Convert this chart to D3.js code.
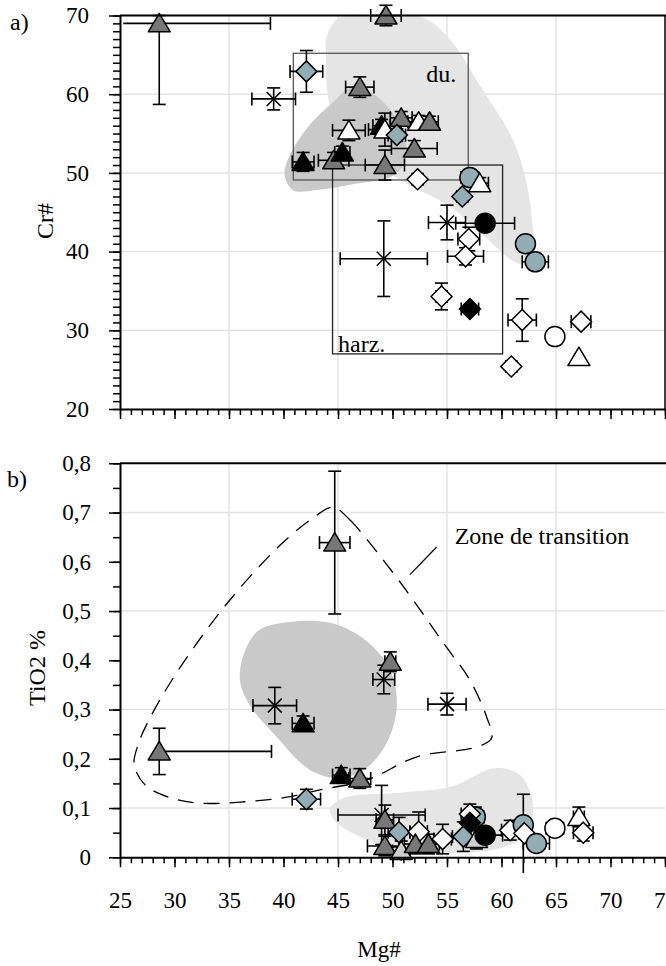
<!DOCTYPE html>
<html>
<head>
<meta charset="utf-8">
<script src="https://cdn.jsdelivr.net/npm/d3@7"></script>
<style>
  body { margin: 0; background: #fff; }
  svg { font-family: "Liberation Serif", "Times New Roman", serif; }
</style>
</head>
<body>
<svg id="chart" width="666" height="966"></svg>
<script>
// ---- data ----
// marker categories used in both panels
const markerTypes = ["triGray", "triBlack", "triWhite", "triLight", "diaBlue", "diaWhite", "diaBlack", "circBlue", "circWhite", "circBlack", "star"];

// panel a) : [type, Mg#, Cr#, error Mg#, error Cr#]  (error may be [minus, plus])
const crPoints = [
    ["triGray", 28.6, 69.0, [3.3, 10.2], [10.3, 1.0]],
    ["triGray", 49.4, 70.0, 1.4, 1.3],
    ["diaBlue", 42.1, 62.9, 1.5, 2.65],
    ["star", 39.1, 59.4, 2.0, 1.4],
    ["triBlack", 41.8, 51.4, 1.0, 1.2],
    ["triGray", 44.6, 51.6, 1.4, 1.0],
    ["triBlack", 45.4, 52.6, 0.7, 0.8],
    ["triGray", 47.0, 60.9, 1.3, 1.3],
    ["triWhite", 46.0, 55.4, 1.5, 1.3],
    ["triBlack", 49.0, 56.0, 0.8, 0.8],
    ["triWhite", 49.3, 55.5, 1.5, 2.1],
    ["triGray", 50.8, 57.0, 1.0, 0.8],
    ["triWhite", 52.4, 56.5, 1.0, 0.8],
    ["triGray", 53.4, 56.5, 0.8, 0.7],
    ["diaBlue", 50.4, 54.8, 0.8, 0.8],
    ["triGray", 52.0, 53.1, 2.1, 1.0],
    ["triGray", 49.3, 51.0, 1.8, 1.9],
    ["diaWhite", 52.3, 49.2, 0.5, 0.5],
    ["circBlue", 57.1, 49.4, 0.8, 0.5],
    ["triWhite", 58.0, 48.7, 0.8, 0.7],
    ["diaBlue", 56.4, 47.0, 0.5, 0.6],
    ["star", 55.0, 43.7, 1.7, 2.2],
    ["circBlack", 58.5, 43.6, 2.7, 0.8],
    ["diaWhite", 57.0, 41.6, 1.0, 1.5],
    ["diaWhite", 56.7, 39.4, 1.65, 1.1],
    ["circBlue", 62.2, 41.0, 0.6, 0.6],
    ["circBlue", 63.1, 38.7, 1.2, 1.0],
    ["star", 49.2, 39.1, 4.0, 4.8],
    ["diaWhite", 54.5, 34.3, 0.5, 1.7],
    ["diaBlack", 57.1, 32.7, 0.8, 0.4],
    ["diaWhite", 61.9, 31.3, 1.3, 2.7],
    ["circWhite", 64.9, 29.2, 0.4, 0.4],
    ["diaWhite", 67.3, 31.1, 0.9, 0.5],
    ["triWhite", 67.1, 26.6, 0, 0],
    ["diaWhite", 60.9, 25.4, 0.5, 0.6]
];

// panel b) : [type, Mg#, TiO2 %, error Mg#, error TiO2]
const tiPoints = [
    ["triGray", 28.6, 0.215, [0, 10.3], 0.047],
    ["star", 39.2, 0.308, 2.0, 0.037],
    ["triBlack", 41.8, 0.272, 1.0, 0.015],
    ["diaBlue", 42.1, 0.118, 1.3, 0.02],
    ["triGray", 44.7, 0.639, 1.4, 0.145],
    ["triBlack", 45.3, 0.167, 0.8, 0.015],
    ["triGray", 47.0, 0.160, 1.0, 0.02],
    ["triGray", 49.8, 0.397, 0.5, 0.02],
    ["star", 49.2, 0.361, 1.0, 0.029],
    ["star", 55.0, 0.311, 1.75, 0.022],
    ["star", 49.0, 0.086, 4.0, 0.06],
    ["triGray", 49.3, 0.076, 0.8, 0.03],
    ["triGray", 49.3, 0.023, 1.6, 0.02],
    ["diaBlue", 50.6, 0.051, 1.0, 0.03],
    ["triLight", 50.8, 0.013, 0.8, 0.02],
    ["diaWhite", 52.4, 0.052, 0.8, 0.04],
    ["triGray", 52.1, 0.027, 1.0, 0.02],
    ["triGray", 53.3, 0.027, 1.0, 0.02],
    ["diaWhite", 54.6, 0.037, 0.8, 0.03],
    ["circBlue", 57.6, 0.082, 0.8, 0.02],
    ["diaWhite", 57.1, 0.088, 0.8, 0.02],
    ["diaBlack", 57.1, 0.070, 0.6, 0.015],
    ["diaBlue", 56.5, 0.042, 1.0, 0.03],
    ["triLight", 57.7, 0.037, 0.8, 0.02],
    ["circBlack", 58.5, 0.045, 1.6, 0.01],
    ["diaWhite", 60.8, 0.055, 0.8, 0.02],
    ["circBlue", 62.0, 0.066, 0.3, [0.098, 0.062]],
    ["diaWhite", 62.1, 0.049, 0.5, 0.01],
    ["circBlue", 63.2, 0.028, 1.2, 0.01],
    ["circWhite", 64.9, 0.059, 0.8, 0.01],
    ["triWhite", 67.1, 0.082, 0.5, 0.02],
    ["diaWhite", 67.5, 0.050, 0.9, 0.017]
];

// fields (Mg#, value)
const crLightField = [[44.0, 67.5], [45.2, 69.8], [48.4, 70.0], [52.8, 69.7], [55.3, 66.9], [58.3, 60.5], [61.05, 54.2], [62.3, 48.7], [62.8, 44.0], [62.9, 38.2], [61.2, 38.7], [58.3, 42.1], [55.3, 45.7], [50.7, 49.1], [47.0, 52.9], [44.7, 56.7], [44.0, 60.5], [43.9, 64.3]];
const crDarkField = [[46.1, 60.8], [44.5, 58.9], [42.4, 56.1], [40.6, 52.3], [40.1, 49.7], [40.9, 47.8], [42.9, 47.8], [46.1, 48.5], [50.0, 49.6], [51.2, 51.6], [51.1, 54.8], [49.8, 58.0], [47.9, 60.3]];
const duBox = [40.9, 56.95, 49.1, 65.2];     // Mg# min, max, Cr# min, max
const harzBox = [44.5, 60.1, 27.0, 51.0];

const tiDarkField = [[36.0, 0.360], [36.5, 0.421], [37.8, 0.462], [40.6, 0.478], [44.3, 0.476], [47.5, 0.441], [49.8, 0.380], [50.4, 0.309], [49.6, 0.238], [47.7, 0.183], [45.2, 0.161], [42.4, 0.178], [39.2, 0.249], [36.9, 0.309]];
const tiLightField = [[44.27, 0.100], [45.6, 0.121], [50.7, 0.131], [55.3, 0.143], [59.4, 0.181], [61.7, 0.167], [62.9, 0.106], [62.2, 0.045], [59.9, 0.019], [55.3, 0.009], [50.7, 0.015], [46.1, 0.052], [44.5, 0.080]];
const transitionZone = [[44.54, 0.711], [46.1, 0.685], [47.48, 0.650], [50.69, 0.559], [55.0, 0.425], [57.1, 0.360], [58.67, 0.283], [59.1, 0.242], [57.75, 0.224], [52.25, 0.204], [47.66, 0.157], [43.35, 0.137], [40.3, 0.122], [36.0, 0.112], [32.3, 0.110], [29.6, 0.121], [27.3, 0.147], [26.3, 0.188], [26.65, 0.228], [27.75, 0.283], [30.5, 0.385], [35.1, 0.523], [39.7, 0.634], [42.7, 0.689]];
const transitionLeader = [[51.6, 0.574], [54.05, 0.630]];

// ticks
const mgTicks = [25, 30, 35, 40, 45, 50, 55, 60, 65, 70, 75];
const mgGrid = [35, 45, 55, 65];
const crTicks = [20, 30, 40, 50, 60, 70];
const crGrid = [30, 40, 50, 60];
const tiTicks = [0, 0.1, 0.2, 0.3, 0.4, 0.5, 0.6, 0.7, 0.8];
const tiGrid = [0.1, 0.3, 0.5, 0.7];

// ---- styles ----
const markerStyle = {
    triGray:  { shape: "tri", fill: "#777777" },
    triBlack: { shape: "tri", fill: "#000000" },
    triWhite: { shape: "tri", fill: "#ffffff" },
    triLight: { shape: "tri", fill: "#cfcfcf" },
    diaBlue:  { shape: "dia", fill: "#93adb5" },
    diaWhite: { shape: "dia", fill: "#ffffff" },
    diaBlack: { shape: "dia", fill: "#000000" },
    circBlue: { shape: "circ", fill: "#93adb5" },
    circWhite:{ shape: "circ", fill: "#ffffff" },
    circBlack:{ shape: "circ", fill: "#000000" },
    star:     { shape: "star", fill: "none" }
};
const gridColor = "#e3e3e3";
const serif = "Liberation Serif";

const svg = d3.select("#chart");

const x = d3.scaleLinear().domain([25, 75]).range([120, 665]);
const yA = d3.scaleLinear().domain([20, 70]).range([409, 15.5]);
const yB = d3.scaleLinear().domain([0, 0.8]).range([857.3, 463.3]);

const commaFmt = d => String(+d.toFixed(2)).replace(".", ",");

function drawPanel(g, y, opts) {
    // gridlines
    g.append("g").selectAll("line")
        .data(mgGrid).enter().append("line")
        .attr("x1", d => x(d)).attr("x2", d => x(d))
        .attr("y1", y.range()[0]).attr("y2", y.range()[1])
        .attr("stroke", gridColor).attr("stroke-width", 1.5);
    g.append("g").selectAll("line")
        .data(opts.grid).enter().append("line")
        .attr("x1", x(25)).attr("x2", x(75))
        .attr("y1", d => y(d)).attr("y2", d => y(d))
        .attr("stroke", gridColor).attr("stroke-width", 1.5);

    const area = d3.line()
        .x(d => x(d[0])).y(d => y(d[1]))
        .curve(d3.curveCatmullRomClosed.alpha(0.5));

    opts.fields.forEach(f => {
        g.append("path").attr("d", area(f.pts))
            .attr("fill", f.color).attr("stroke", "none");
    });

    if (opts.extra) opts.extra(g);

    const pts = opts.points;

    // error bars
    const cap = 6.5;
    const eb = g.append("g").attr("stroke", "#000").attr("stroke-width", 1.6);
    pts.forEach(p => {
        const [t, vx, vy, ex, ey] = p;
        const exm = Array.isArray(ex) ? ex[0] : ex, exp = Array.isArray(ex) ? ex[1] : ex;
        const eym = Array.isArray(ey) ? ey[0] : ey, eyp = Array.isArray(ey) ? ey[1] : ey;
        const cx = x(vx), cy = y(vy);
        if (exm > 0 || exp > 0) {
            eb.append("line").attr("x1", x(vx - exm)).attr("x2", x(vx + exp)).attr("y1", cy).attr("y2", cy);
            if (exp > 0) eb.append("line").attr("x1", x(vx + exp)).attr("x2", x(vx + exp)).attr("y1", cy - cap).attr("y2", cy + cap);
            if (exm > 0 && vx - exm > 25.4) eb.append("line").attr("x1", x(vx - exm)).attr("x2", x(vx - exm)).attr("y1", cy - cap).attr("y2", cy + cap);
        }
        if (eym > 0 || eyp > 0) {
            eb.append("line").attr("x1", cx).attr("x2", cx).attr("y1", y(vy - eym)).attr("y2", y(vy + eyp));
            eb.append("line").attr("x1", cx - cap).attr("x2", cx + cap).attr("y1", y(vy + eyp)).attr("y2", y(vy + eyp));
            if (y(vy - eym) < y.range()[0]) eb.append("line").attr("x1", cx - cap).attr("x2", cx + cap).attr("y1", y(vy - eym)).attr("y2", y(vy - eym));
        }
    });

    // markers
    const mk = g.append("g");
    pts.forEach(p => {
        const st = markerStyle[p[0]];
        const cx = x(p[1]), cy = y(p[2]);
        const m = mk.append("g").attr("transform", `translate(${cx},${cy})`);
        if (st.shape === "tri") {
            m.append("path").attr("d", "M0,-10L11,8.5L-11,8.5Z")
                .attr("fill", st.fill).attr("stroke", "#000").attr("stroke-width", 1.5).attr("stroke-linejoin", "round");
        } else if (st.shape === "dia") {
            m.append("path").attr("d", "M0,-10.5L10.5,0L0,10.5L-10.5,0Z")
                .attr("fill", st.fill).attr("stroke", "#000").attr("stroke-width", 1.5);
        } else if (st.shape === "circ") {
            m.append("circle").attr("r", 10)
                .attr("fill", st.fill).attr("stroke", "#000").attr("stroke-width", 1.5);
        } else {
            m.append("path").attr("d", "M-7,-7L7,7M-7,7L7,-7")
                .attr("fill", "none").attr("stroke", "#000").attr("stroke-width", 1.5);
        }
    });

    // axes
    const y0 = y.range()[0];
    g.append("g").attr("transform", `translate(0,${y0})`)
        .call(d3.axisBottom(x).tickValues(d3.range(25, 76, 1)).tickSize(6).tickSizeOuter(0).tickFormat(""))
        .call(a => a.selectAll("line").attr("stroke-width", 1.5))
        .call(a => a.select(".domain").remove());
    const xMaj = g.append("g").attr("transform", `translate(0,${y0})`)
        .attr("font-family", serif).attr("font-size", 23)
        .call(d3.axisBottom(x).tickValues(mgTicks).tickSize(10).tickSizeOuter(0)
            .tickPadding(24).tickFormat(opts.xLabels ? d3.format("d") : ""));
    xMaj.attr("font-family", serif).attr("font-size", 23);
    xMaj.select(".domain").attr("stroke-width", 2);
    xMaj.selectAll("line").attr("stroke-width", 1.5);
    xMaj.selectAll("text").attr("fill", "#000");

    g.append("g").attr("transform", `translate(${x(25)},0)`)
        .call(d3.axisLeft(y).tickValues(opts.minorY).tickSize(7).tickSizeOuter(0).tickFormat(""))
        .call(a => a.selectAll("line").attr("stroke-width", 1.5))
        .call(a => a.select(".domain").remove());
    const yMaj = g.append("g").attr("transform", `translate(${x(25)},0)`)
        .call(d3.axisLeft(y).tickValues(opts.ticks).tickSize(11).tickSizeOuter(0)
            .tickPadding(opts.yPad).tickFormat(opts.yFormat));
    yMaj.attr("font-family", serif).attr("font-size", 23);
    yMaj.select(".domain").attr("stroke-width", 2);
    yMaj.selectAll("line").attr("stroke-width", 1.5);
    yMaj.selectAll("text").attr("fill", "#000");

    // frame on top (and right)
    g.append("line").attr("x1", x(25)).attr("x2", 666).attr("y1", y.range()[1]).attr("y2", y.range()[1])
        .attr("stroke", "#000").attr("stroke-width", 2);
    if (opts.rightBorder) {
        g.append("line").attr("x1", x(75)).attr("x2", x(75)).attr("y1", y.range()[1]).attr("y2", y0)
            .attr("stroke", "#000").attr("stroke-width", 1.5);
    }
}

// ---- panel a) ----
const gA = svg.append("g");
drawPanel(gA, yA, {
    grid: crGrid,
    ticks: crTicks,
    minorY: d3.range(20, 71, 1),
    yFormat: d3.format("d"),
    yPad: 20,
    xLabels: false,
    rightBorder: true,
    points: crPoints,
    fields: [
        { pts: crLightField, color: "#e5e5e5" },
        { pts: crDarkField, color: "#c9c9c9" }
    ],
    extra: (g) => {
        [[duBox, "#555"], [harzBox, "#222"]].forEach(([b, c]) => {
            g.append("rect")
                .attr("x", x(b[0])).attr("y", yA(b[3]))
                .attr("width", x(b[1]) - x(b[0])).attr("height", yA(b[2]) - yA(b[3]))
                .attr("fill", "none").attr("stroke", c).attr("stroke-width", 1.3);
        });
        g.append("text").attr("x", x(53.1)).attr("y", yA(61.6))
            .attr("font-size", 24).text("du.");
        g.append("text").attr("x", x(45.0)).attr("y", yA(27.3))
            .attr("font-size", 24).text("harz.");
    }
});

// ---- panel b) ----
const gB = svg.append("g");
drawPanel(gB, yB, {
    grid: tiGrid,
    ticks: tiTicks,
    minorY: d3.range(0, 0.801, 0.05),
    yFormat: commaFmt,
    yPad: 18,
    xLabels: true,
    rightBorder: false,
    points: tiPoints,
    fields: [
        { pts: tiDarkField, color: "#c9c9c9" },
        { pts: tiLightField, color: "#e5e5e5" }
    ],
    extra: (g) => {
        const dashLine = d3.line().x(d => x(d[0])).y(d => yB(d[1])).curve(d3.curveCatmullRomClosed.alpha(0.5));
        g.append("path").attr("d", dashLine(transitionZone))
            .attr("fill", "none").attr("stroke", "#000").attr("stroke-width", 1.3)
            .attr("stroke-dasharray", "16,10");
        g.append("line")
            .attr("x1", x(transitionLeader[0][0])).attr("y1", yB(transitionLeader[0][1]))
            .attr("x2", x(transitionLeader[1][0])).attr("y2", yB(transitionLeader[1][1]))
            .attr("stroke", "#000").attr("stroke-width", 1.2);
        g.append("text").attr("x", x(55.7)).attr("y", yB(0.636))
            .attr("font-size", 24).text("Zone de transition");
    }
});

// ---- titles ----
svg.append("text").attr("x", 10).attr("y", 30).attr("font-size", 24).text("a)");
svg.append("text").attr("x", 7).attr("y", 487).attr("font-size", 24).text("b)");

svg.append("text").attr("transform", "translate(53,221) rotate(-90)")
    .attr("text-anchor", "middle").attr("font-size", 24).text("Cr#");
svg.append("text").attr("transform", "translate(45,668) rotate(-90)")
    .attr("text-anchor", "middle").attr("font-size", 24).text("TiO2 %");
svg.append("text").attr("x", 379).attr("y", 957)
    .attr("text-anchor", "middle").attr("font-size", 23).text("Mg#");
</script>
</body>
</html>
